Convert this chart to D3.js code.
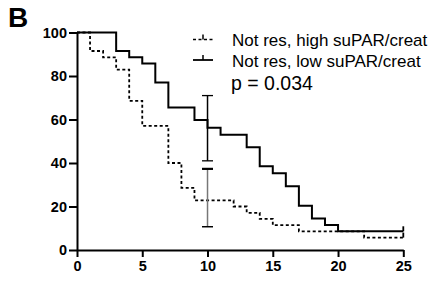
<!DOCTYPE html>
<html>
<head>
<meta charset="utf-8">
<script src="https://cdn.jsdelivr.net/npm/d3@7"></script>
<style>
  body { margin: 0; background: #fff; }
  svg { display: block; }
  .axis text { font-family: "Liberation Sans", Arial, sans-serif; font-weight: bold; font-size: 14.5px; fill: #000; }
  .axis path, .axis line { stroke: #000; stroke-width: 2; }
</style>
</head>
<body>
<div id="chart"></div>
<script>
// survival curves (time in x units, percent surviving)
var lowTimes  = [0, 3, 4, 5, 6, 7, 9, 10, 11, 13, 14, 15, 16, 17, 18, 19, 20, 25];
var lowSurv   = [100, 91.5, 88.6, 85.8, 77, 65.5, 59.8, 56.2, 53, 47.2, 38.5, 35.3, 29.3, 20.4, 14.5, 11.5, 8.6, 8.6];
var highTimes = [0, 1, 2, 3, 4, 5, 7, 8, 9, 12, 13, 14, 15, 17, 22, 25];
var highSurv  = [100, 91.5, 88.6, 82.9, 68.6, 57.1, 40, 28.6, 22.8, 20, 17.1, 14.3, 11.4, 8.6, 5.7, 5.7];

// error bars at x = 10
var errX = 10;
var lowErr  = [41, 71];
var highErr = [10.7, 37.3];

var xTicks = [0, 5, 10, 15, 20, 25];
var yTicks = [0, 20, 40, 60, 80, 100];
var legendLabels = ["Not res, high suPAR/creat", "Not res, low suPAR/creat"];
var pText = "p = 0.034";

var width = 441, height = 281;
var margin = {top: 32.5, right: 37.7, bottom: 31, left: 77};

var svg = d3.select("#chart")
  .append("svg")
    .attr("width", width)
    .attr("height", height);

var x = d3.scaleLinear()
  .domain([0, 25])
  .range([margin.left, width - margin.right]);

var y = d3.scaleLinear()
  .domain([0, 100])
  .range([height - margin.bottom, margin.top]);

// panel letter
svg.append("text")
  .attr("x", 8)
  .attr("y", 27)
  .style("font-family", "Liberation Sans, Arial, sans-serif")
  .style("font-weight", "bold")
  .style("font-size", "28px")
  .text("B");

// curves
function stepData(t, s) {
  return t.map(function(d, i) { return [d, s[i]]; });
}
var line = d3.line()
  .x(function(d) { return x(d[0]); })
  .y(function(d) { return y(d[1]); })
  .curve(d3.curveStepAfter);

svg.append("path")
  .datum(stepData(highTimes, highSurv))
  .attr("d", line)
  .attr("fill", "none")
  .attr("stroke", "#000")
  .attr("stroke-width", 1.8)
  .attr("stroke-dasharray", "3,2.5");

svg.append("path")
  .datum(stepData(lowTimes, lowSurv))
  .attr("d", line)
  .attr("fill", "none")
  .attr("stroke", "#000")
  .attr("stroke-width", 2);

// censor ticks at the last time
[[lowTimes, lowSurv], [highTimes, highSurv]].forEach(function(c) {
  var n = c[0].length - 1;
  svg.append("line")
    .attr("x1", x(c[0][n])).attr("x2", x(c[0][n]))
    .attr("y1", y(c[1][n])).attr("y2", y(c[1][n]) - 5)
    .attr("stroke", "#000").attr("stroke-width", 1.8);
});

// error bars
function errBar(v, col, capW) {
  svg.append("line")
    .attr("x1", x(errX)).attr("x2", x(errX))
    .attr("y1", y(v[0])).attr("y2", y(v[1]))
    .attr("stroke", col).attr("stroke-width", 1.5);
  v.forEach(function(d, i) {
    svg.append("line")
      .attr("x1", x(errX) - 5.5).attr("x2", x(errX) + 5.5)
      .attr("y1", y(d)).attr("y2", y(d))
      .attr("stroke", "#000").attr("stroke-width", capW[i]);
  });
}
errBar(lowErr, "#000", [1.3, 1.3]);
errBar(highErr, "#777", [1.5, 2.2]);

// axes
svg.append("g")
  .attr("class", "axis")
  .attr("transform", "translate(0," + y(0) + ")")
  .call(d3.axisBottom(x).tickValues(xTicks).tickSize(7).tickSizeOuter(0).tickPadding(4));

svg.append("g")
  .attr("class", "axis")
  .attr("transform", "translate(" + x(0) + ",0)")
  .call(d3.axisLeft(y).tickValues(yTicks).tickSize(8).tickSizeOuter(0).tickPadding(2));

// legend
var legend = svg.selectAll(".legend")
  .data(legendLabels)
  .enter().append("g")
  .attr("class", "legend")
  .attr("transform", function(d, i) { return "translate(193," + (39.5 + i * 20.5) + ")"; });

legend.append("line")
  .attr("x1", 0).attr("x2", 20)
  .attr("stroke", "#000")
  .attr("stroke-width", function(d, i) { return i === 0 ? 1.6 : 1.8; })
  .attr("stroke-dasharray", function(d, i) { return i === 0 ? "3,2.5" : null; });

legend.append("line")
  .attr("x1", 10).attr("x2", 10)
  .attr("y1", 0).attr("y2", -5)
  .attr("stroke", "#000")
  .attr("stroke-width", 1.5);

legend.append("text")
  .attr("x", 39)
  .attr("y", 6.5)
  .style("font-family", "Liberation Sans, Arial, sans-serif")
  .style("font-size", "17px")
  .text(function(d) { return d; });

svg.append("text")
  .attr("x", 231)
  .attr("y", 89.5)
  .style("font-family", "Liberation Sans, Arial, sans-serif")
  .style("font-size", "19.5px")
  .text(pText);
</script>
</body>
</html>
